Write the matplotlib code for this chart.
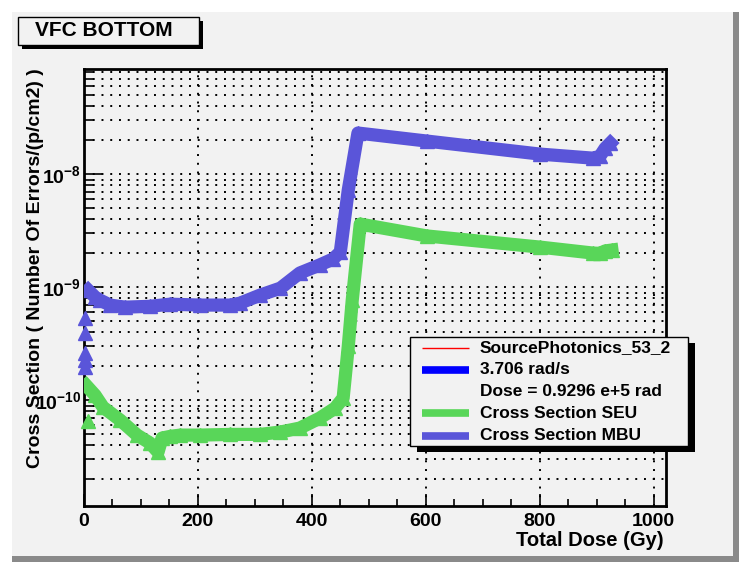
#!/usr/bin/env python3
# -*- coding: utf-8 -*-
"""VFC BOTTOM cross section vs total dose (ROOT-style canvas)."""
import matplotlib

matplotlib.use("Agg")
import matplotlib.pyplot as plt  # noqa: E402
from matplotlib.lines import Line2D  # noqa: E402
from matplotlib.patches import Rectangle  # noqa: E402
from matplotlib.ticker import LogLocator, MultipleLocator, NullFormatter  # noqa: E402

plt.rcParams["font.family"] = ["Liberation Sans", "DejaVu Sans"]
plt.rcParams["font.weight"] = "bold"
plt.rcParams["mathtext.fontset"] = "custom"
plt.rcParams["mathtext.rm"] = "Liberation Sans:bold"
plt.rcParams["mathtext.bf"] = "Liberation Sans:bold"

# --- data ------------------------------------------------------------------
seu_dose = [3.7, 19.5, 33.5, 63.4, 93.2, 116, 130, 137, 151, 169, 204, 257,
            309, 345, 379, 414, 441, 455, 464, 471, 485, 602, 801, 894, 906,
            915, 927]
seu_xs = [1.36e-10, 1.11e-10, 8.7e-11, 6.7e-11, 4.93e-11, 4.19e-11, 3.49e-11,
          4.64e-11, 4.8e-11, 4.93e-11, 4.93e-11, 5.0e-11, 5.0e-11, 5.25e-11,
          5.69e-11, 6.97e-11, 8.55e-11, 1.05e-10, 3.0e-10, 7.73e-10, 3.63e-9,
          2.85e-9, 2.27e-9, 2.01e-9, 2.0e-9, 2.1e-9, 2.14e-9]
seu_start_dose = [7.2]
seu_start_xs = [6.56e-11]

mbu_dose = [7.2, 19.5, 28.3, 45.8, 72.2, 116, 151, 204, 257, 274, 309, 345,
            379, 414, 437, 450, 464, 481, 602, 801, 894, 906, 915, 924]
mbu_xs = [9.46e-10, 8.2e-10, 7.7e-10, 6.97e-10, 6.68e-10, 6.8e-10, 7.1e-10,
          6.97e-10, 6.97e-10, 7.25e-10, 8.53e-10, 9.85e-10, 1.34e-9, 1.58e-9,
          1.78e-9, 2.05e-9, 7.25e-9, 2.32e-8, 1.97e-8, 1.51e-8, 1.39e-8,
          1.45e-8, 1.7e-8, 1.89e-8]
mbu_start_dose = [1.9, 1.9, 1.9, 1.9, 1.9]
mbu_start_xs = [5.35e-10, 3.94e-10, 2.62e-10, 2.27e-10, 1.97e-10]

legend_labels = ["SourcePhotonics_53_2", "3.706 rad/s",
                 "Dose = 0.9296 e+5 rad", "Cross Section SEU",
                 "Cross Section MBU"]

SEU_C = "#59d659"
MBU_C = "#5a55d9"
BG = "#f2f2f2"

W, H = 739, 562


def fx(px):
    return px / W


def fy(py):
    return 1 - py / H


def rect(x0, y0, x1, y1, **kw):
    """Rectangle given in picture pixels (top-left origin)."""
    return Rectangle((fx(x0), fy(y1)), fx(x1) - fx(x0), fy(y0) - fy(y1),
                     transform=plt.gcf().transFigure, **kw)


def main():
    fig = plt.figure(figsize=(W / 100, H / 100), dpi=100, facecolor="white")

    # canvas bevel: light top/left, dark bottom/right
    fig.patches.append(rect(12, 12, W, H, facecolor="#8a8a8a", edgecolor="none",
                            zorder=-2))
    fig.patches.append(rect(12, 12, 733, 556, facecolor=BG, edgecolor="none",
                            zorder=-1))

    ax = fig.add_axes([fx(84), fy(505.7), fx(665.5 - 84), fy(69.3) - fy(505.7)])
    ax.set_facecolor(BG)
    ax.set_yscale("log")
    ax.set_xlim(0, 1021)
    ax.set_ylim(1.17e-11, 8.5e-8)

    ax.plot(seu_dose, seu_xs, color=SEU_C, lw=9.5, marker="^", ms=10,
            solid_joinstyle="round", zorder=3)
    ax.plot(seu_start_dose, seu_start_xs, ls="none", color=SEU_C, marker="^",
            ms=10, zorder=3, clip_on=False)
    ax.plot(mbu_dose, mbu_xs, color=MBU_C, lw=9.5, marker="^", ms=10,
            solid_joinstyle="round", zorder=4)
    ax.plot(mbu_start_dose, mbu_start_xs, ls="none", color=MBU_C, marker="^",
            ms=10, zorder=4, clip_on=False)

    # axes styling
    ax.xaxis.set_major_locator(MultipleLocator(200))
    ax.xaxis.set_minor_locator(MultipleLocator(50))
    ax.yaxis.set_minor_locator(LogLocator(base=10, subs=range(2, 10), numticks=20))
    ax.yaxis.set_minor_formatter(NullFormatter())
    ax.set_yticks([1e-10, 1e-9, 1e-8])
    ax.set_yticklabels([r"$10^{-10}$", r"$10^{-9}$", r"$10^{-8}$"])
    ax.tick_params(axis="both", which="both", direction="in", top=False,
                   right=False, width=1.2, color="black")
    ax.tick_params(axis="x", which="major", length=9, labelsize=14, pad=5)
    ax.tick_params(axis="x", which="minor", length=5)
    ax.tick_params(axis="y", which="major", length=13, labelsize=14, pad=2)
    ax.tick_params(axis="y", which="minor", length=7)
    for s in ax.spines.values():
        s.set_linewidth(2)
    ax.grid(True, which="major", axis="x", color="black", ls=(0, (1, 3.5)), lw=1.4)
    ax.grid(True, which="both", axis="y", color="black", ls=(0, (1, 3.5)), lw=1.4)
    ax.set_axisbelow(True)

    fig.text(fx(664), fy(540), "Total Dose (Gy)", ha="right", va="center",
             fontsize=14.5, fontweight="bold")
    fig.text(fx(36), fy(68), "Cross Section ( Number Of Errors/(p/cm2) )",
             rotation=90, ha="center", va="top", fontsize=14,
             fontweight="bold")

    # title box with shadow
    fig.patches.append(rect(22, 21, 203, 49, facecolor="black",
                            edgecolor="none", zorder=5))
    fig.patches.append(rect(18, 17, 199, 45, facecolor=BG, edgecolor="black",
                            lw=1, zorder=6))
    fig.text(fx(35), fy(31), "VFC BOTTOM", ha="left", va="center",
             fontsize=15, fontweight="bold", zorder=7)

    # legend box with shadow
    lx0, ly0, lx1, ly1 = 410, 337, 688, 446
    fig.patches.append(rect(lx0 + 7, ly0 + 6, lx1 + 7, ly1 + 6,
                            facecolor="black", edgecolor="none", zorder=8))
    fig.patches.append(rect(lx0, ly0, lx1, ly1, facecolor=BG,
                            edgecolor="black", lw=1, zorder=9))
    rows = [348, 370, 392, 413, 436]
    styles = [("red", 1.0), ("blue", 5.5), (None, 0), (SEU_C, 5.5), (MBU_C, 5.5)]
    for yy, lab, (c, lw) in zip(rows, legend_labels, styles):
        if c is not None:
            fig.lines.append(Line2D([fx(422), fx(469)], [fy(yy), fy(yy)],
                                    transform=fig.transFigure, color=c, lw=lw,
                                    solid_capstyle="butt", zorder=10))
        fig.text(fx(480), fy(yy), lab, ha="left", va="center", fontsize=12.5,
                 fontweight="bold", zorder=10)

    fig.savefig("out.png", dpi=100, facecolor=fig.get_facecolor())


if __name__ == "__main__":
    main()
